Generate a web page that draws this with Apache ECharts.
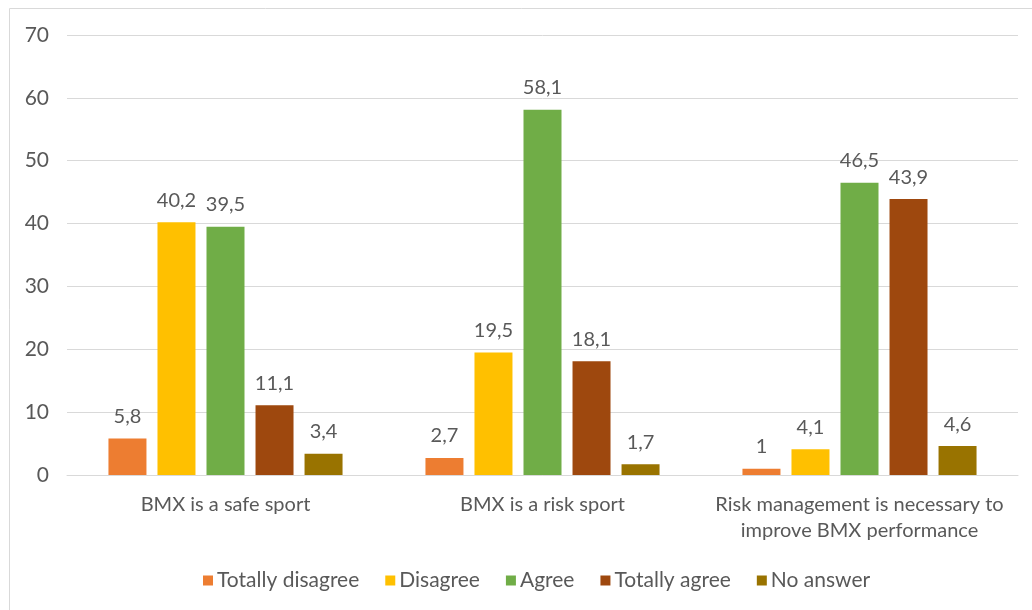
<!DOCTYPE html>
<html>
<head>
<meta charset="utf-8">
<style>
  html, body { margin: 0; padding: 0; background: #ffffff; }
  #chart { width: 1032px; height: 610px; }
</style>
<script src="https://cdn.jsdelivr.net/npm/echarts@6/dist/echarts.min.js"></script>
</head>
<body>
<div id="chart"></div>
<script>
// Survey answers (%) for three BMX statements
const categories = [
  'BMX is a safe sport',
  'BMX is a risk sport',
  'Risk management is necessary to\nimprove BMX performance'
];
const totallyDisagree = [5.8, 2.7, 1];
const disagree = [40.2, 19.5, 4.1];
const agree = [39.5, 58.1, 46.5];
const totallyAgree = [11.1, 18.1, 43.9];
const noAnswer = [3.4, 1.7, 4.6];

const seriesNames = ['Totally disagree', 'Disagree', 'Agree', 'Totally agree', 'No answer'];
const seriesData = [totallyDisagree, disagree, agree, totallyAgree, noAnswer];
const colors = ['#ED7D31', '#FFC000', '#70AD47', '#9E480E', '#997300'];

const textColor = '#595959';
const fontFamily = 'Lato, "Open Sans", sans-serif';

const chart = echarts.init(document.getElementById('chart'));
chart.setOption({
  animation: false,
  textStyle: { fontFamily: fontFamily },
  graphic: [{
    type: 'rect',
    shape: { x: 9.5, y: 8.5, width: 1040, height: 620 },
    style: { fill: 'none', stroke: '#d9d9d9', lineWidth: 1 },
    silent: true
  }],
  grid: { left: 67, right: 14, top: 35, bottom: 135, containLabel: false },
  legend: {
    data: seriesNames,
    top: 565,
    left: 198,
    itemWidth: 10,
    itemHeight: 10,
    itemGap: 26,
    icon: 'rect',
    textStyle: { color: textColor, fontSize: 21, fontFamily: fontFamily, padding: [0, 0, 0, -1] }
  },
  xAxis: {
    type: 'category',
    data: categories,
    axisLine: { lineStyle: { color: '#d9d9d9' } },
    axisTick: { show: false },
    axisLabel: { interval: 0, color: textColor, fontSize: 20, margin: 17, lineHeight: 26, fontFamily: fontFamily }
  },
  yAxis: {
    type: 'value',
    min: 0,
    max: 70,
    interval: 10,
    axisLine: { show: false },
    axisTick: { show: false },
    axisLabel: { color: textColor, fontSize: 21, margin: 18, fontFamily: fontFamily },
    splitLine: { lineStyle: { color: '#d9d9d9', width: 1 } }
  },
  series: seriesNames.map((name, i) => ({
    name: name,
    type: 'bar',
    data: seriesData[i],
    barWidth: 38,
    barGap: '29%',
    itemStyle: { color: colors[i] },
    label: {
      show: true,
      position: 'top',
      distance: 12,
      color: textColor,
      fontSize: 20,
      fontFamily: fontFamily,
      formatter: p => String(p.value).replace('.', ',')
    }
  }))
});
</script>
</body>
</html>
